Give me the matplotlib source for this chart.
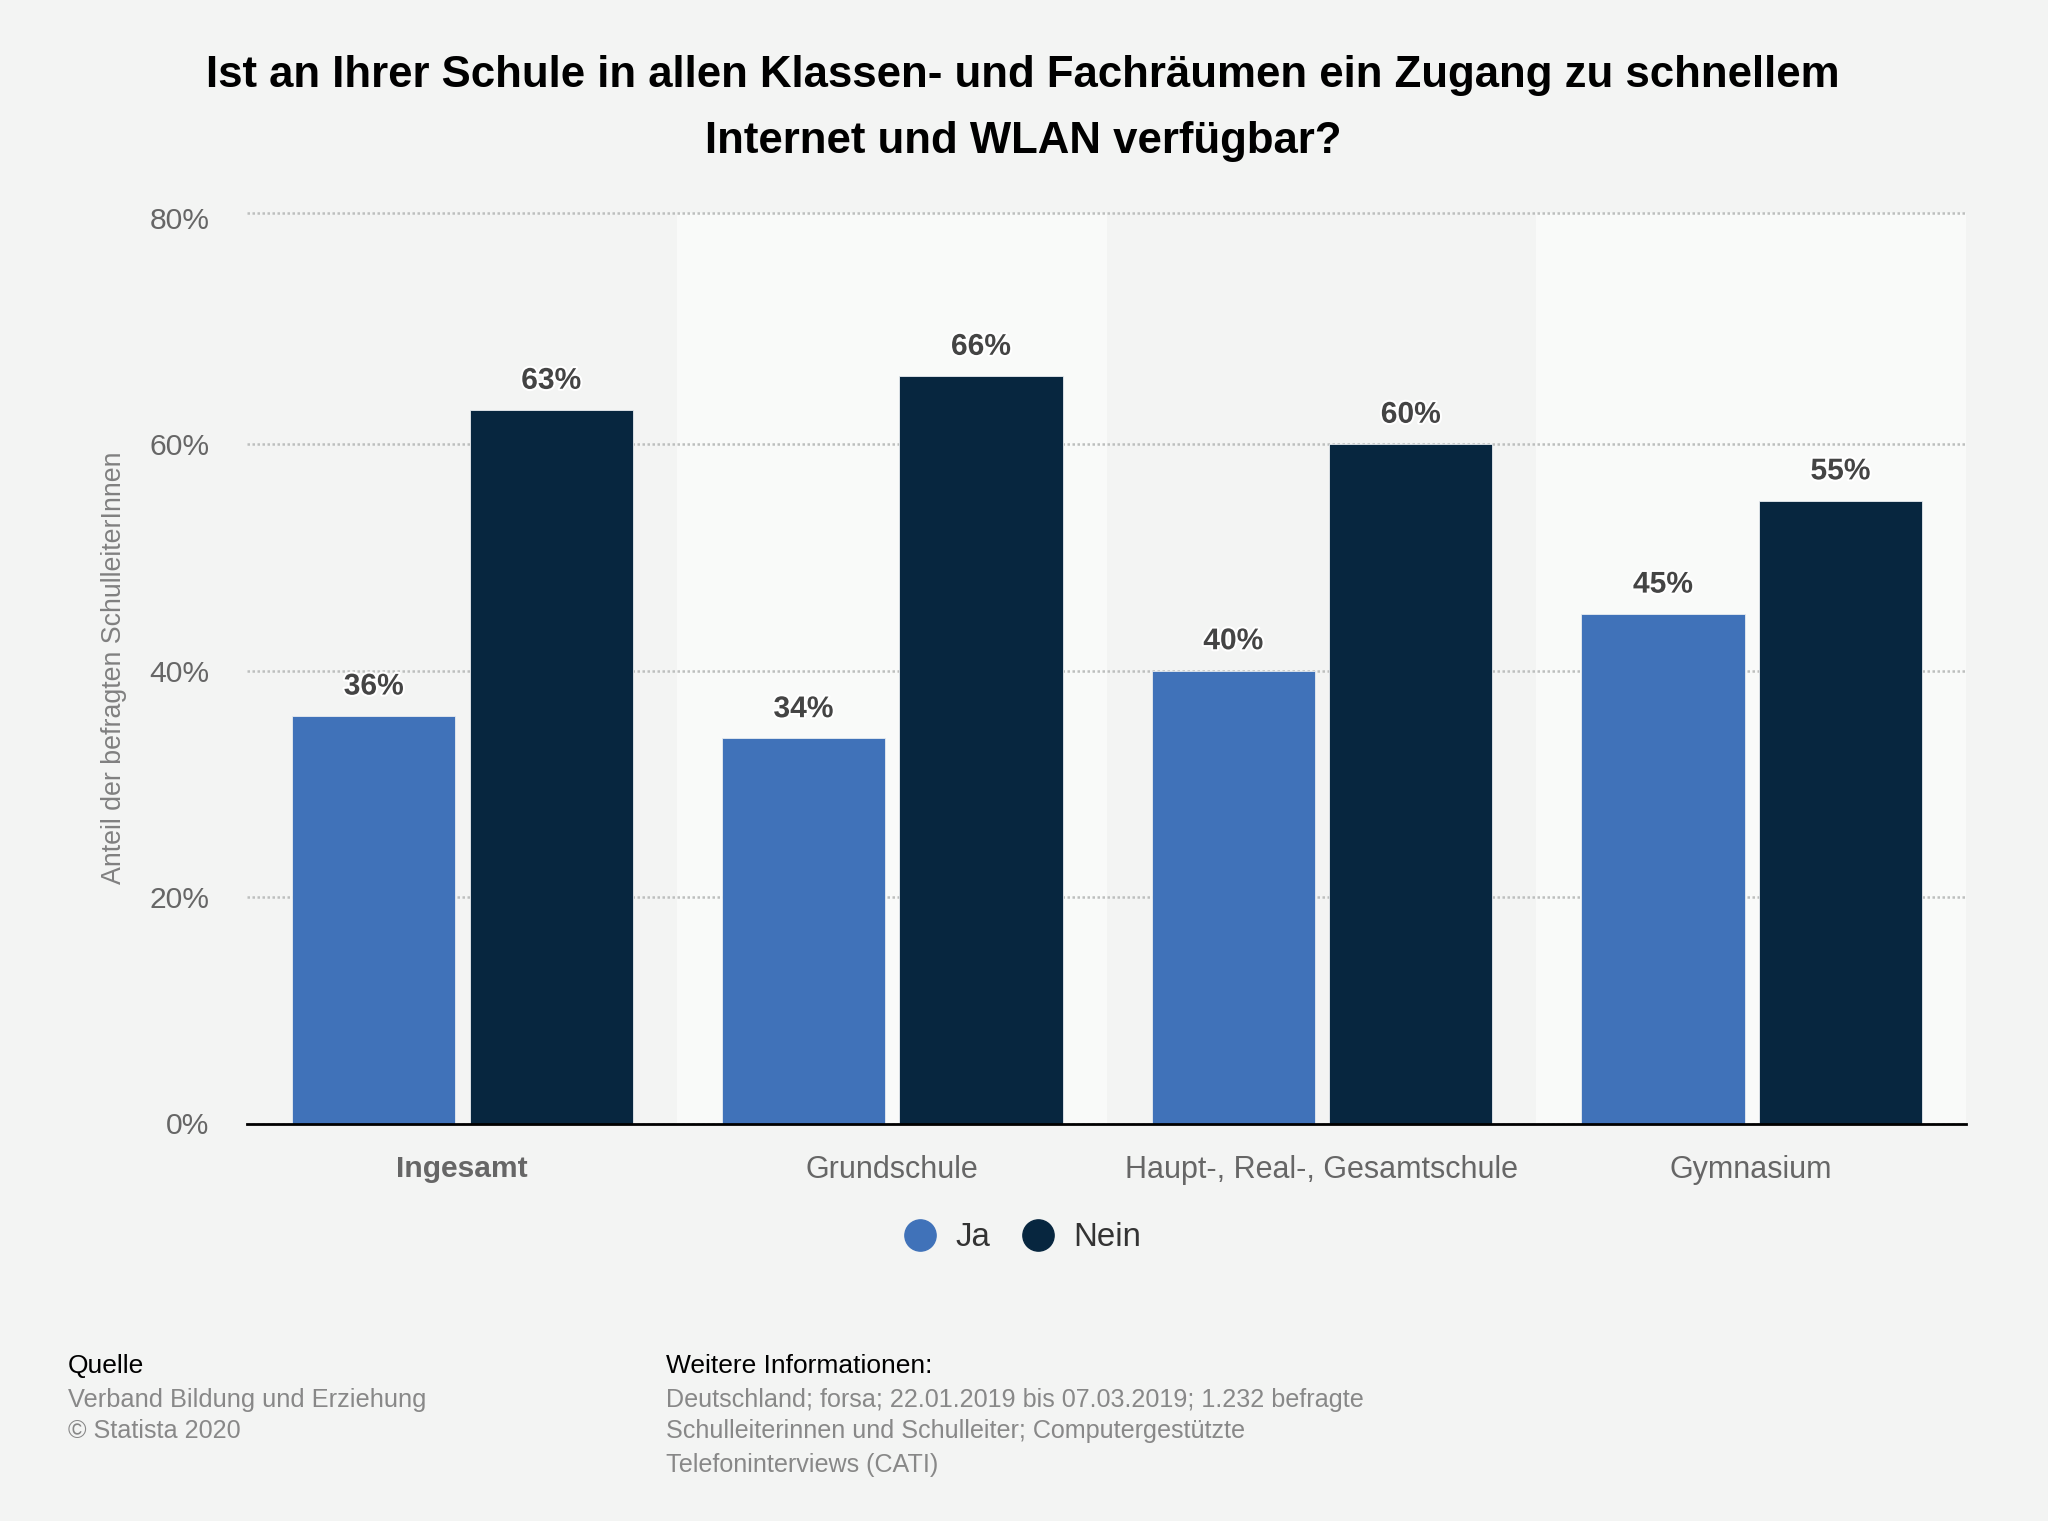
#!/usr/bin/env python3
"""Statista-style bar chart: fast internet and WLAN access at German schools."""
import matplotlib
matplotlib.use("Agg")
import matplotlib.patheffects as pe
import matplotlib.pyplot as plt
import numpy as np
from matplotlib.lines import Line2D

categories = ["Ingesamt", "Grundschule", "Haupt-, Real-, Gesamtschule", "Gymnasium"]
ja = [36, 34, 40, 45]
nein = [63, 66, 60, 55]
yticks = [0, 20, 40, 60, 80]
W, H = 2048, 1521

BG = "#f3f4f3"
BAND = "#f9faf9"
BLUE = "#4072b9"
NAVY = "#07263f"
GREY = "#666666"
DOTS = (0, (1, 1))

plt.rcParams["font.family"] = ["Liberation Sans", "DejaVu Sans"]

fig = plt.figure(figsize=(W / 100, H / 100), dpi=100, facecolor=BG)
ax = fig.add_axes([247 / W, 1 - 1123.5 / H, (1966 - 247) / W, (1123.5 - 213) / H], facecolor=BG)

x = np.arange(len(categories))
for i in x[1::2]:
    ax.axvspan(i - 0.5, i + 0.5, color=BAND, lw=0, zorder=0)

ax.set_axisbelow(True)
ax.yaxis.grid(True, color="#bdbfbe", lw=1.8, ls=DOTS)

bars_ja = ax.bar(x - 0.205, ja, 0.38, color=BLUE, edgecolor="#e8ecf0", lw=0.6, zorder=2, label="Ja")
bars_nein = ax.bar(x + 0.208, nein, 0.38, color=NAVY, edgecolor="#e8ecf0", lw=0.6, zorder=2, label="Nein")

stroke = [pe.withStroke(linewidth=3, foreground="white")]
for bars in (bars_ja, bars_nein):
    ax.bar_label(bars, fmt="%d%%", padding=11, fontsize=21.6, fontweight="bold", color="#444444",
                 path_effects=stroke, zorder=4)

ax.set_xlim(-0.5, 3.5)
ax.set_ylim(0, 80.4)  # the top dotted line sits a little above the 80% tick
ax.set_xticks(x, categories)
ax.set_yticks(yticks, [f"{v}%" for v in yticks])
ax.tick_params(axis="x", length=0, pad=22.6, labelsize=22, labelcolor=GREY)
ax.tick_params(axis="y", length=0, pad=27, labelsize=21.6, labelcolor=GREY)
ax.get_xticklabels()[0].set_fontweight("bold")
ax.get_xticklabels()[0].set_fontsize(21.6)
ax.get_ygridlines()[-1].set_visible(False)
for s in ("left", "right"):
    ax.spines[s].set_visible(False)
ax.spines["top"].set_color("#bdbfbe")
ax.spines["top"].set_linewidth(1.8)
ax.spines["top"].set_linestyle(DOTS)
ax.spines["top"].set_capstyle("butt")
ax.spines["bottom"].set_color("black")
ax.spines["bottom"].set_linewidth(2)
ax.spines["bottom"].set_zorder(5)

ax.set_ylabel("Anteil der befragten SchulleiterInnen", fontsize=19.3, color="#808080")
ax.yaxis.set_label_coords((127 - 247) / (1966 - 247), 0.5)

handles = [Line2D([], [], ls="", marker="o", ms=22.5, color=BLUE, label="Ja"),
           Line2D([], [], ls="", marker="o", ms=22.5, color=NAVY, label="Nein")]
fig.legend(handles=handles, loc="center", bbox_to_anchor=(1014.5 / W, 1 - 1238 / H), ncol=2, frameon=False,
           fontsize=23.8, labelcolor="#333333", handletextpad=0.07, columnspacing=0.44)

fig.text(1023 / W, 1 - 76 / H, "Ist an Ihrer Schule in allen Klassen- und Fachräumen ein Zugang zu schnellem",
         ha="center", va="center", fontsize=31.5, fontweight="bold", color="black")
fig.text(1023 / W, 1 - 141 / H, "Internet und WLAN verfügbar?",
         ha="center", va="center", fontsize=31.5, fontweight="bold", color="black")

# footer blocks, (text, y px, colour, size)
src_lines = [("Quelle", 1366, "black", 19), ("Verband Bildung und Erziehung", 1400, "#888888", 18.3),
             ("© Statista 2020", 1431, "#888888", 18.1)]
info_lines = [("Weitere Informationen:", 1366, "black", 19),
              ("Deutschland; forsa; 22.01.2019 bis 07.03.2019; 1.232 befragte", 1400, "#888888", 18.05),
              ("Schulleiterinnen und Schulleiter; Computergestützte", 1431, "#888888", 18.1),
              ("Telefoninterviews (CATI)", 1465, "#888888", 18.1)]
for left, lines in ((68, src_lines), (666, info_lines)):
    for txt, y, col, size in lines:
        fig.text(left / W, 1 - y / H, txt, ha="left", va="center", fontsize=size, color=col)

fig.savefig("out.png", dpi=100, facecolor=BG)
